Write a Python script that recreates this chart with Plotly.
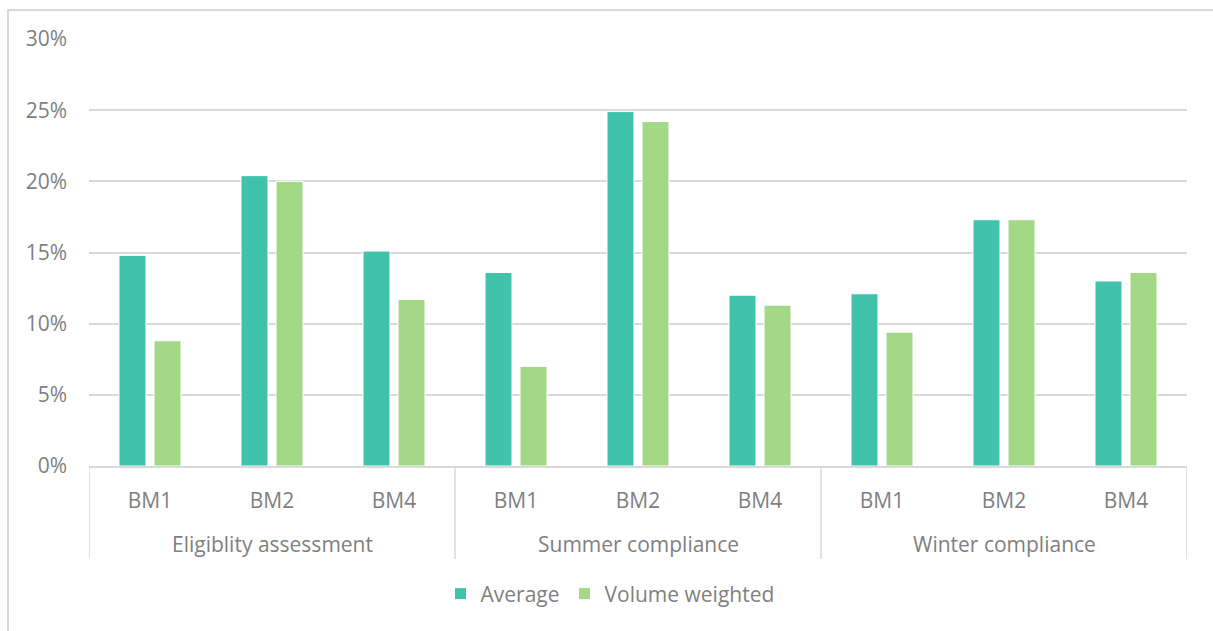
import plotly.graph_objects as go

groups = ["Eligiblity assessment", "Summer compliance", "Winter compliance"]
benchmarks = ["BM1", "BM2", "BM4"]
average = [0.148, 0.204, 0.151, 0.136, 0.249, 0.120, 0.121, 0.173, 0.130]
volume_weighted = [0.088, 0.200, 0.117, 0.070, 0.242, 0.113, 0.094, 0.173, 0.136]
y_ticks = [0, 0.05, 0.10, 0.15, 0.20, 0.25, 0.30]

TEAL = "#41C2AB"
GREEN = "#A2D886"
TXT = "#7F7F7F"
GRID = "#D9D9D9"
FONT = "Open Sans"
FS = 21

n_sub = len(benchmarks)
x_idx = list(range(len(groups) * n_sub))
x_text = benchmarks * len(groups)

fig = go.Figure()
fig.add_trace(go.Bar(name="Average", x=x_idx, y=average,
                     marker=dict(color=TEAL, line=dict(color="white", width=1))))
fig.add_trace(go.Bar(name="Volume weighted", x=x_idx, y=volume_weighted,
                     marker=dict(color=GREEN, line=dict(color="white", width=1))))

L, R, T, B = 89, 26, 39, 165
W, H = 1213, 631
pw, ph = W - L - R, H - T - B

def px_x(p):
    return (p - L) / pw

def px_y(p):
    return (H - B - p) / ph

shapes = [dict(type="rect", xref="paper", yref="paper",
               x0=px_x(8), y0=px_y(700), x1=px_x(1260), y1=px_y(10),
               line=dict(color=GRID, width=2), fillcolor="rgba(0,0,0,0)", layer="below")]
annotations = []
for gi, g in enumerate(groups):
    lo = gi * n_sub - 0.5
    hi = (gi + 1) * n_sub - 0.5
    for xb in ([lo, hi] if gi == 0 else [hi]):
        shapes.append(dict(type="line", xref="x", yref="paper", x0=xb, x1=xb,
                           y0=0, y1=px_y(559), line=dict(color=GRID, width=1.5)))
    annotations.append(dict(text=g, xref="x", yref="paper", x=(lo + hi) / 2, y=px_y(544),
                            xanchor="center", yanchor="middle", showarrow=False,
                            font=dict(family=FONT, size=FS, color=TXT)))

fig.update_layout(
    width=W, height=H,
    margin=dict(l=L, r=R, t=T, b=B),
    paper_bgcolor="white", plot_bgcolor="white",
    font=dict(family=FONT, size=FS, color=TXT),
    barmode="group", bargap=0.426, bargroupgap=0.23,
    showlegend=True,
    legend=dict(orientation="h", xanchor="center", x=px_x(610), yanchor="middle", y=px_y(594),
                font=dict(family=FONT, size=FS, color=TXT), itemwidth=30,
                bgcolor="rgba(0,0,0,0)"),
    xaxis=dict(range=[-0.5, len(x_idx) - 0.5], tickvals=x_idx, ticktext=x_text,
               showline=True, linecolor=GRID, linewidth=1.5,
               ticks="", showgrid=False, zeroline=False, ticklabelstandoff=15,
               tickfont=dict(family=FONT, size=FS, color=TXT)),
    yaxis=dict(range=[0, 0.30], tickvals=y_ticks, tickformat=".0%",
               showgrid=True, gridcolor=GRID, gridwidth=1.5,
               zeroline=False, showline=False, ticks="", ticklabelstandoff=21,
               tickfont=dict(family=FONT, size=FS, color=TXT)),
    shapes=shapes,
    annotations=annotations,
)

fig.write_html("out.html")
